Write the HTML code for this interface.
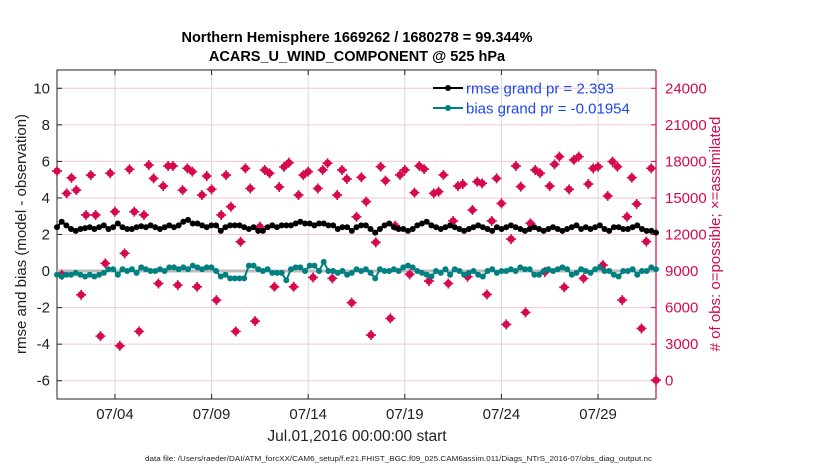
<!DOCTYPE html>
<html><head><meta charset="utf-8"><style>
html,body{margin:0;padding:0;background:#fff;width:830px;height:470px;overflow:hidden}
svg{display:block;font-family:"Liberation Sans",sans-serif}
</style></head><body>
<svg id="chart" width="830" height="470" viewBox="0 0 830 470">
<text x="357" y="42" text-anchor="middle" font-size="14.5" font-weight="bold">Northern Hemisphere 1669262 / 1680278 = 99.344%</text>
<text x="357" y="61" text-anchor="middle" font-size="14.5" font-weight="bold">ACARS_U_WIND_COMPONENT @ 525 hPa</text>
<g id="grid"></g>
<g id="axes"></g>
<g id="series"></g>
<g id="legend">
<line x1="433" y1="88" x2="463" y2="88" stroke="#000" stroke-width="2"/>
<circle cx="448" cy="88" r="3" fill="#000"/>
<text x="466" y="93.5" font-size="15" fill="#1a48f0">rmse grand pr = 2.393</text>
<line x1="433" y1="108" x2="463" y2="108" stroke="#008080" stroke-width="2"/>
<circle cx="448" cy="108" r="3" fill="#008080"/>
<text x="466" y="113.5" font-size="15" fill="#1a48f0">bias grand pr = -0.01954</text>
</g>
<text transform="translate(26,234) rotate(-90)" text-anchor="middle" font-size="15" fill="#222">rmse and bias (model - observation)</text>
<text transform="translate(720,234) rotate(-90)" text-anchor="middle" font-size="15" fill="#d40a50"># of obs: o=possible; ×=assimilated</text>
<text x="357" y="441" text-anchor="middle" font-size="15.5" fill="#222">Jul.01,2016 00:00:00 start</text>
<text x="145" y="461" font-size="7" fill="#222" textLength="507" lengthAdjust="spacingAndGlyphs">data file: /Users/raeder/DAI/ATM_forcXX/CAM6_setup/f.e21.FHIST_BGC.f09_025.CAM6assim.011/Diags_NTrS_2016-07/obs_diag_output.nc</text>
</svg>
<script>
const leftTicks=[-6,-4,-2,0,2,4,6,8,10];
const rightTicks=[0,3000,6000,9000,12000,15000,18000,21000,24000];
const xTickDays=[3,8,13,18,23,28];
const xTickLabels=["07/04","07/09","07/14","07/19","07/24","07/29"];
const rmse=[2.4,2.7,2.5,2.3,2.2,2.3,2.35,2.4,2.3,2.4,
2.5,2.3,2.4,2.6,2.4,2.3,2.3,2.4,2.45,2.4,
2.5,2.4,2.3,2.4,2.5,2.4,2.5,2.7,2.8,2.6,
2.6,2.5,2.4,2.5,2.5,2.2,2.4,2.5,2.5,2.5,
2.4,2.3,2.4,2.2,2.2,2.4,2.5,2.4,2.5,2.5,
2.5,2.6,2.7,2.6,2.6,2.5,2.6,2.6,2.5,2.5,
2.3,2.4,2.4,2.2,2.4,2.5,2.5,2.3,2.1,2.3,
2.5,2.6,2.4,2.3,2.3,2.2,2.3,2.5,2.6,2.7,
2.5,2.4,2.3,2.4,2.5,2.4,2.3,2.2,2.3,2.4,
2.5,2.4,2.3,2.2,2.4,2.3,2.4,2.5,2.4,2.3,
2.2,2.3,2.4,2.3,2.2,2.3,2.4,2.3,2.2,2.3,
2.4,2.5,2.3,2.4,2.3,2.4,2.5,2.3,2.2,2.4,
2.4,2.3,2.3,2.4,2.5,2.3,2.2,2.2,2.1];
const bias=[-0.2,-0.3,-0.2,-0.2,-0.1,-0.2,-0.3,-0.2,-0.3,-0.2,
-0.1,0.1,0.1,-0.2,0.1,0.0,0.1,-0.1,0.2,0.1,
0.0,0.0,0.1,0.0,0.2,0.2,0.1,0.2,0.1,0.3,
0.2,0.1,0.2,0.2,0.0,-0.3,-0.2,-0.4,-0.4,-0.4,
-0.4,0.3,0.3,0.1,0.0,0.1,-0.1,-0.1,-0.1,-0.5,
0.1,0.2,0.2,0.0,0.3,0.3,0.0,0.5,0.0,0.0,
-0.1,0.0,-0.2,-0.1,0.1,0.0,0.1,-0.1,-0.4,0.1,
0.0,0.0,0.1,0.0,0.2,0.3,0.2,0.0,-0.1,-0.2,
-0.3,0.0,-0.1,0.1,-0.2,0.1,0.0,-0.2,-0.1,0.0,
-0.2,-0.3,0.0,0.1,-0.1,0.0,0.0,0.1,0.0,0.2,
0.1,0.1,-0.2,-0.2,0.0,0.1,0.0,0.1,0.2,0.1,
-0.2,-0.1,0.1,0.0,-0.1,0.1,0.2,0.0,0.0,-0.2,
-0.3,0.0,0.0,0.1,-0.2,0.0,0.0,0.2,0.1];
const obsCounts=[17205,8700,15375,16650,15645,7050,13605,16875,13605,3660,9630,17025,13875,2865,10455,17355,13875,4050,13605,17700,16605,7980,15975,17625,17625,7845,15645,17430,17160,7710,15240,16800,15705,6615,13605,16875,14280,4050,11400,17430,15780,4890,12645,17295,17025,7710,15900,17550,17895,7710,15240,16875,17160,8475,15780,17295,17850,
8400,15240,17295,16560,6405,13455,16695,14700,3750,11355,17565,16425,5115,12720,16890,17295,8730,15435,17625,17370,8175,15375,15510,16890,7980,13110,15975,16140,8535,14010,16335,16200,7080,13110,16605,14550,4620,11625,17625,15930,5610,12915,17295,17025,8925,15975,17760,18390,7665,15705,18120,18390,8400,16140,17430,17565,9495,15165,17985,17565,6615,13455,16665,14505,4290,11415,17430,45];

const NS="http://www.w3.org/2000/svg";
const PL=57,PR=656,PT=70,PB=399,YMIN=-7,YMAX=11,DAYS=31;
const xS=d=>PL+(d/DAYS)*(PR-PL);
const yL=v=>PB-(v-YMIN)/(YMAX-YMIN)*(PB-PT);
const yR=c=>yL(c/1500-6);
function mk(tag,attrs,parent){const e=document.createElementNS(NS,tag);for(const k in attrs)e.setAttribute(k,attrs[k]);parent.appendChild(e);return e;}
const grid=document.getElementById('grid'),axes=document.getElementById('axes'),ser=document.getElementById('series');
leftTicks.forEach(v=>{
 const g=mk('line',{x1:PL,x2:PR,y1:yL(v),y2:yL(v),stroke:'#f2c6d4','stroke-width':1},grid);
 
 
 mk('line',{x1:PL,x2:PL+5,y1:yL(v),y2:yL(v),stroke:'#222'},axes);
 const t=mk('text',{x:PL-7,y:yL(v)+5,'text-anchor':'end','font-size':15,fill:'#222'},axes);
 t.textContent=v;
 
 
});
rightTicks.forEach(c=>{
 mk('line',{x1:PR-5,x2:PR,y1:yR(c),y2:yR(c),stroke:'#d40a50'},axes);
 const t=mk('text',{x:PR+9,y:yR(c)+5,'font-size':15,fill:'#d40a50'},axes);
 t.textContent=c;
 
 
});
xTickDays.forEach((d,i)=>{
 const g=mk('line',{x1:xS(d),x2:xS(d),y1:PT,y2:PB,stroke:'#d8d8d8'},grid);
 
 
 mk('line',{x1:xS(d),x2:xS(d),y1:PB,y2:PB-5,stroke:'#222'},axes);
 mk('line',{x1:xS(d),x2:xS(d),y1:PT,y2:PT+5,stroke:'#222'},axes);
 const t=mk('text',{x:xS(d),y:PB+20,'text-anchor':'middle','font-size':15,fill:'#222'},axes);
 t.textContent=xTickLabels[i];
 
 
});
const frame=mk('path',{d:`M${PR},${PT}H${PL}V${PB}H${PR}`,fill:'none',stroke:'#222','stroke-width':1},axes);


const ra=mk('line',{x1:PR,x2:PR,y1:PT,y2:PB,stroke:'#d40a50','stroke-width':1.2},axes);


const zl=mk('line',{x1:PL,x2:PR,y1:yL(0),y2:yL(0),stroke:'#bbb','stroke-width':3},ser);


// obs
const nO=obsCounts.length;
obsCounts.forEach((c,i)=>{
 const x=xS(i*DAYS/(nO-1)),y=yR(c);
 const g=mk('g',{},ser);
 
 
 mk('circle',{cx:x,cy:y,r:3.6,fill:'#d6094f'},g);
 mk('path',{d:`M${x-5},${y}H${x+5}M${x},${y-5}V${y+5}`,stroke:'#d6094f','stroke-width':1.6},g);
});
function series(arr,color,name){
 const n=arr.length;
 const pts=arr.map((v,i)=>[xS(i*DAYS/(n-1)),yL(v)]);
 const p=mk('polyline',{points:pts.map(p=>p.join(',')).join(' '),fill:'none',stroke:color,'stroke-width':2},ser);
 
 
 pts.forEach(q=>{
  const c=mk('circle',{cx:q[0],cy:q[1],r:3,fill:color},ser);
  
  
 });
}
series(bias,'#008080','bias');
series(rmse,'#000','rmse');
document.getElementById('chart').appendChild(document.getElementById('legend'));
</script>
</body></html>
